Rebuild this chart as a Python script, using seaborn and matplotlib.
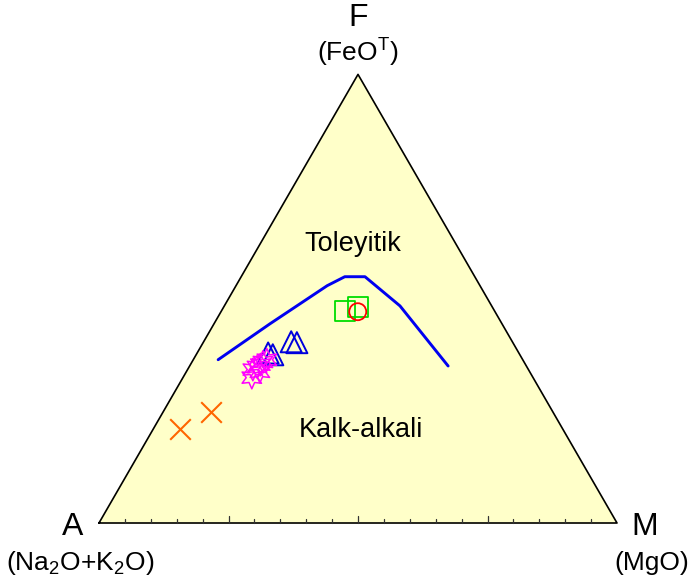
import numpy as np
import pandas as pd
import matplotlib
matplotlib.use("Agg")
import matplotlib.pyplot as plt
import seaborn as sns

# AFM ternary data (fractions A, F, M)
boundary_A = [0.588, 0.448, 0.295, 0.251, 0.212, 0.177, 0.151]
boundary_F = [0.364, 0.444, 0.529, 0.549, 0.549, 0.484, 0.350]
boundary_M = [0.048, 0.108, 0.176, 0.200, 0.239, 0.339, 0.499]

cross_A = [0.739, 0.660]
cross_F = [0.210, 0.248]
cross_M = [0.051, 0.092]

circle_A = [0.265]
circle_F = [0.471]
circle_M = [0.264]

square_A = [0.289, 0.259]
square_F = [0.473, 0.482]
square_M = [0.238, 0.259]

tri_A = [0.427, 0.417, 0.484, 0.477]
tri_F = [0.404, 0.402, 0.379, 0.375]
tri_M = [0.169, 0.181, 0.137, 0.148]

star_A = [0.543, 0.532, 0.521, 0.512, 0.504, 0.494, 0.521]
star_F = [0.324, 0.342, 0.348, 0.353, 0.359, 0.364, 0.337]
star_M = [0.133, 0.126, 0.131, 0.135, 0.137, 0.142, 0.142]

H = np.sqrt(3) / 2


def to_xy(A, F, M):
    A, F, M = np.asarray(A), np.asarray(F), np.asarray(M)
    s = A + F + M
    return pd.DataFrame({"x": (M + F / 2) / s, "y": F * H / s})


sns.set_style("white")
plt.rcParams["font.family"] = ["Liberation Sans", "DejaVu Sans"]
plt.rcParams["text.color"] = "black"

fig = plt.figure(figsize=(6.92, 5.85), dpi=100)
ax = fig.add_axes([0, 0, 1, 1])
ax.set_xlim(-99 / 518, (692 - 99) / 518)
ax.set_ylim(-62 / 518, (585 - 62) / 518)
ax.set_axis_off()

# triangle
ax.fill([0, 1, 0.5], [0, 0, H], color="#ffffc9", zorder=0)
ax.plot([0, 1, 0.5, 0], [0, 0, H, 0], color="black", lw=1.2, zorder=1)

# bottom ticks
for i in range(1, 20):
    t = i / 20
    ln = 0.014 if i % 5 == 0 else 0.008
    ax.plot([t, t], [0, ln], color="#333333", lw=0.9, zorder=1)

# tholeiitic / calc-alkaline boundary
bd = to_xy(boundary_A, boundary_F, boundary_M)
sns.lineplot(data=bd, x="x", y="y", sort=False, color="#0000f0", lw=2.1,
             ax=ax, zorder=3)

kw = dict(ax=ax, legend=False, zorder=4)
sns.scatterplot(data=to_xy(cross_A, cross_F, cross_M), x="x", y="y",
                marker="x", s=220, color="#ff6600", linewidth=1.5, **kw)
sns.scatterplot(data=to_xy(square_A, square_F, square_M), x="x", y="y",
                marker="s", s=200, facecolor="none", edgecolor="#00dd00",
                linewidth=1.3, **kw)
sns.scatterplot(data=to_xy(circle_A, circle_F, circle_M), x="x", y="y",
                marker="o", s=150, facecolor="none", edgecolor="#ff0000",
                linewidth=1.3, **kw)
sns.scatterplot(data=to_xy(tri_A, tri_F, tri_M), x="x", y="y",
                marker="^", s=230, facecolor="none", edgecolor="#0000dd",
                linewidth=1.4, **kw)
sns.scatterplot(data=to_xy(star_A, star_F, star_M), x="x", y="y",
                marker=(6, 1, 0), s=260, facecolor="none", edgecolor="#ff00ff",
                linewidth=1.1, **kw)

# labels
ax.text(0.5, (523 - 18) / 518, "F", ha="center", va="center", fontsize=23)
ax.text(0.5, (523 - 52) / 518, "(FeO$^{\\mathregular{T}}$)",
        ha="center", va="center", fontsize=19)
ax.text(-26 / 518, -4 / 518, "A", ha="center", va="center", fontsize=23)
ax.text(-19 / 518, -40 / 518, "(Na$_{\\mathregular{2}}$O+K$_{\\mathregular{2}}$O)",
        ha="center", va="center", fontsize=19)
ax.text(1 + 28 / 518, -4 / 518, "M", ha="center", va="center", fontsize=23)
ax.text(1 + 35 / 518, -40 / 518, "(MgO)", ha="center", va="center", fontsize=19)

ax.text((353 - 99) / 518, (523 - 244) / 518, "Toleyitik", ha="center",
        va="center", fontsize=19.5)
ax.text((361 - 99) / 518, (523 - 430) / 518, "Kalk-alkali", ha="center",
        va="center", fontsize=19.5)

fig.savefig("out.png", dpi=100)
